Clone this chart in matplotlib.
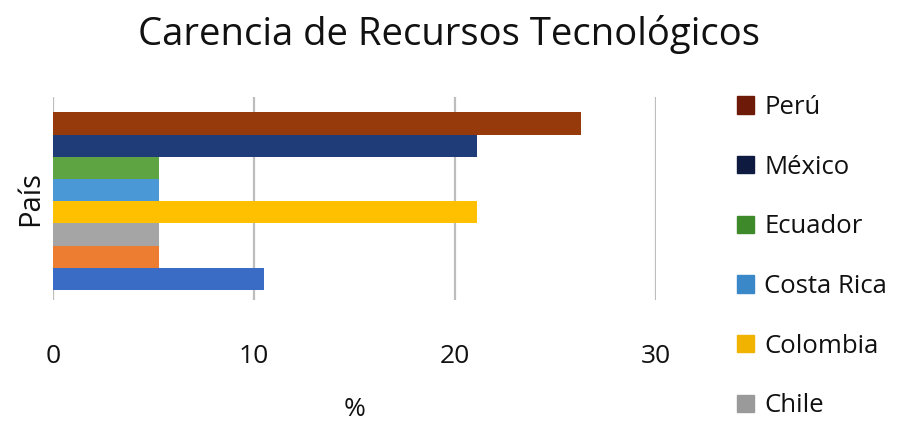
import matplotlib
matplotlib.use('Agg')
import matplotlib.pyplot as plt
from matplotlib.patches import Patch

plt.rcParams['font.family'] = ['Open Sans', 'DejaVu Sans']

# datos (de arriba hacia abajo)
paises = ['Perú', 'México', 'Ecuador', 'Costa Rica', 'Colombia', 'Chile', '', '']
valores = [26.3, 21.1, 5.3, 5.3, 21.1, 5.3, 5.3, 10.5]
colores = ['#963A0C', '#1F3C78', '#5FA443', '#4A98D5', '#FFC000', '#A5A5A5', '#ED7D31', '#3A6CC6']
colores_leyenda = ['#6E1A08', '#0E1A40', '#3E8A2A', '#3A88C8', '#F2B200', '#9A9A9A']
xticks = [0, 10, 20, 30]

fig = plt.figure(figsize=(8.98, 4.23), dpi=100)
ax = fig.add_axes([0.059, 0.291, 0.671, 0.48])

n = len(valores)
pos = [n - 1 - i for i in range(n)]
ax.barh(pos, valores, height=1.0, color=colores, zorder=3)

ax.set_xlim(0, 30)
ax.set_ylim(-0.95, 8.2)
ax.set_xticks(xticks)
ax.set_yticks([])
ax.grid(axis='x', color='#BDBDBD', linewidth=1.6, zorder=0)
for s in ax.spines.values():
    s.set_visible(False)
ax.tick_params(axis='x', length=0, pad=32, labelsize=19, labelcolor='#111111')

ax.set_xlabel('%', fontsize=19, labelpad=20, color='#111111')
ax.set_ylabel('País', fontsize=21, labelpad=6, color='#111111')
fig.suptitle('Carencia de Recursos Tecnológicos', fontsize=27.5, y=0.965, color='#111111')

handles = [Patch(color=c) for c in colores_leyenda]
fig.legend(handles, paises[:6], loc='upper left', bbox_to_anchor=(0.795, 0.83),
           frameon=False, fontsize=18.5, handlelength=0.65, handleheight=0.65,
           handletextpad=0.4, labelspacing=1.35, labelcolor='#111111')

fig.savefig('out.png', dpi=100)
